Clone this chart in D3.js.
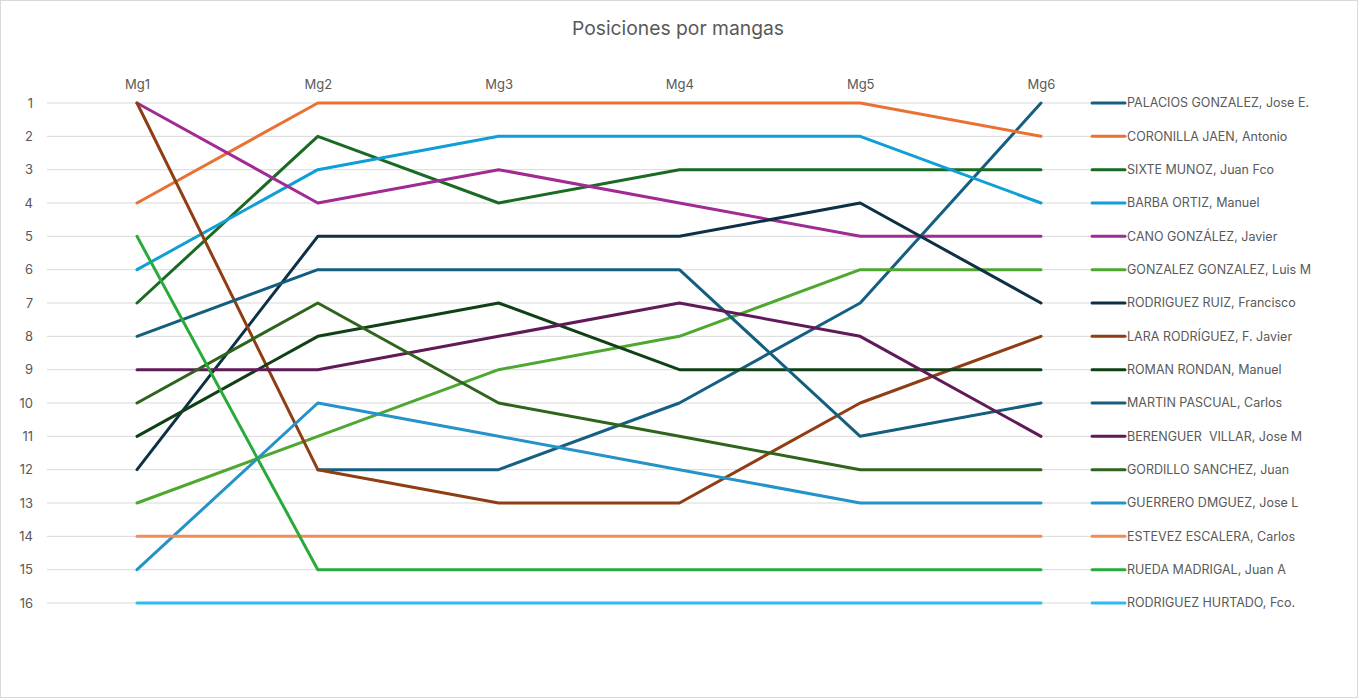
<!DOCTYPE html>
<html>
<head>
<meta charset="utf-8">
<script src="https://cdn.jsdelivr.net/npm/d3@7"></script>
<style>
  html, body { margin: 0; padding: 0; background: #fff; }
  svg { display: block; }
  .legend text { white-space: pre; }
</style>
</head>
<body>
<svg id="chart" width="1358" height="698"></svg>
<script>
const rounds = ["Mg1", "Mg2", "Mg3", "Mg4", "Mg5", "Mg6"];
const positions = d3.range(1, 17);
const riders = [
  "PALACIOS GONZALEZ, Jose E.",
  "CORONILLA JAEN, Antonio",
  "SIXTE MUNOZ, Juan Fco",
  "BARBA ORTIZ, Manuel",
  "CANO GONZÁLEZ, Javier",
  "GONZALEZ GONZALEZ, Luis M",
  "RODRIGUEZ RUIZ, Francisco",
  "LARA RODRÍGUEZ, F. Javier",
  "ROMAN RONDAN, Manuel",
  "MARTIN PASCUAL, Carlos",
  "BERENGUER  VILLAR, Jose M",
  "GORDILLO SANCHEZ, Juan",
  "GUERRERO DMGUEZ, Jose L",
  "ESTEVEZ ESCALERA, Carlos",
  "RUEDA MADRIGAL, Juan A",
  "RODRIGUEZ HURTADO, Fco."
];
const palacios   = [null, 12, 12, 10, 7, 1];
const coronilla  = [4, 1, 1, 1, 1, 2];
const sixte      = [7, 2, 4, 3, 3, 3];
const barba      = [6, 3, 2, 2, 2, 4];
const cano       = [1, 4, 3, 4, 5, 5];
const gonzalez   = [13, 11, 9, 8, 6, 6];
const rodRuiz    = [12, 5, 5, 5, 4, 7];
const lara       = [1, 12, 13, 13, 10, 8];
const roman      = [11, 8, 7, 9, 9, 9];
const martin     = [8, 6, 6, 6, 11, 10];
const berenguer  = [9, 9, 8, 7, 8, 11];
const gordillo   = [10, 7, 10, 11, 12, 12];
const guerrero   = [15, 10, 11, 12, 13, 13];
const estevez    = [14, 14, 14, 14, 14, 14];
const rueda      = [5, 15, 15, 15, 15, 15];
const hurtado    = [16, 16, 16, 16, 16, 16];
const seriesValues = [palacios, coronilla, sixte, barba, cano, gonzalez, rodRuiz, lara,
  roman, martin, berenguer, gordillo, guerrero, estevez, rueda, hurtado];
const colors = ["#156082", "#E97132", "#196B24", "#0F9ED5", "#A02B93", "#4EA72E", "#0D3045", "#8E3E12",
  "#0F4016", "#145F7E", "#601A58", "#2F641C", "#2493C7", "#F08C5A", "#2AAA3A", "#2EBBEE"];

const svg = d3.select("#chart");
const W = 1358, H = 698;
const font = "Inter, 'Open Sans', sans-serif";

svg.append("rect").attr("x", 0.5).attr("y", 0.5).attr("width", W - 1).attr("height", H - 1)
  .attr("fill", "#fff").attr("stroke", "#d9d9d9");

svg.append("text").attr("x", 678).attr("y", 35).attr("text-anchor", "middle")
  .attr("font-family", font).attr("font-size", 19.3).attr("fill", "#595959")
  .text("Posiciones por mangas");

const x = d3.scalePoint().domain(rounds).range([137, 1041]);
const y = d3.scaleLinear().domain([1, 16]).range([103, 603]);
const gridX0 = 47, gridX1 = 1090;

// gridlines
svg.append("g").selectAll("line").data(positions).join("line")
  .attr("x1", gridX0).attr("x2", gridX1)
  .attr("y1", d => y(d)).attr("y2", d => y(d))
  .attr("stroke", "#d9d9d9").attr("stroke-width", 1);

// y axis labels
const yAxis = d3.axisLeft(y).tickValues(positions).tickSize(0).tickPadding(0).tickFormat(d3.format("d"));
const gy = svg.append("g").attr("transform", "translate(33,0)").call(yAxis);
gy.select(".domain").remove();
gy.selectAll("text").attr("font-family", font).attr("font-size", 13).attr("fill", "#595959");

// x axis labels (top)
const xAxis = d3.axisTop(x).tickSize(0).tickPadding(0);
const gx = svg.append("g").attr("transform", "translate(0,89)").call(xAxis);
gx.select(".domain").remove();
gx.selectAll("text").attr("font-family", font).attr("font-size", 13).attr("fill", "#595959");

// lines
const line = d3.line()
  .defined(d => d.v !== null)
  .x(d => x(d.r))
  .y(d => y(d.v));

svg.append("g").selectAll("path").data(seriesValues).join("path")
  .attr("d", vals => line(vals.map((v, i) => ({ r: rounds[i], v }))))
  .attr("fill", "none")
  .attr("stroke", (d, i) => colors[i])
  .attr("stroke-width", 3)
  .attr("stroke-linejoin", "round")
  .attr("stroke-linecap", "round");

// legend
const lg = svg.append("g").attr("class", "legend").selectAll("g").data(riders).join("g")
  .attr("transform", (d, i) => `translate(1091,${y(i + 1)})`);
lg.append("line").attr("x1", 1).attr("x2", 34).attr("y1", 0).attr("y2", 0)
  .attr("stroke", (d, i) => colors[i]).attr("stroke-width", 3).attr("stroke-linecap", "round");
lg.append("text").attr("x", 36).attr("y", 0).attr("dy", "0.35em")
  .attr("font-family", font).attr("font-size", 12.5).attr("fill", "#595959")
  .attr("xml:space", "preserve")
  .text(d => d);
</script>
</body>
</html>
